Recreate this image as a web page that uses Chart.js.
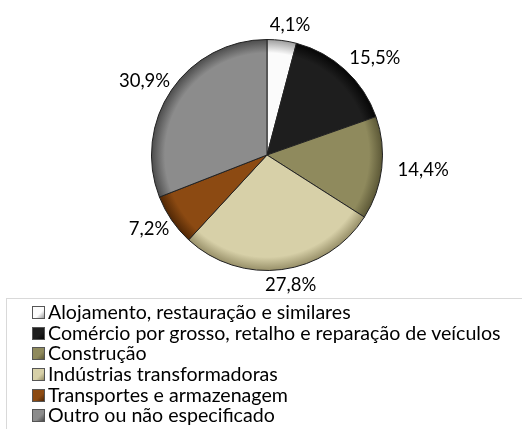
<!DOCTYPE html>
<html><head><meta charset="utf-8">
<script src="https://cdn.jsdelivr.net/npm/chart.js@4/dist/chart.umd.min.js"></script>
<style>
html,body{margin:0;padding:0;background:#fff;width:522px;height:429px;overflow:hidden}
#wrap{position:relative;width:522px;height:429px;overflow:hidden}
#c{position:absolute;left:0;top:0}
#legend{position:absolute;left:6px;top:298px;width:600px;height:200px;border-top:1px solid #d9d9d9;border-left:1px solid #d9d9d9;font-family:Lato,sans-serif;font-size:19.6px;color:#000;padding-top:3px;box-sizing:border-box}
.item{height:20.7px;line-height:20.7px;white-space:nowrap;padding-left:25px;display:flex;align-items:center}
.sw{width:11px;height:11px;border:1px solid #555;margin-right:3px;flex:none}
</style>
</head><body>
<div id="wrap">
<canvas id="c" width="522" height="429"></canvas>
<div id="legend"></div>
</div>
<script>
const categories = [
  'Alojamento, restauração e similares',
  'Comércio por grosso, retalho e reparação de veículos',
  'Construção',
  'Indústrias transformadoras',
  'Transportes e armazenagem',
  'Outro ou não especificado'
];
const shares = [4.1, 15.5, 14.4, 27.8, 7.2, 30.9];
const colors = ['#fbfbfb', '#1e1e1e', '#8f8a5d', '#d7d0a8', '#8c4a12', '#8c8c8c'];
const edgeColors = ['#9a9a9a', '#050505', '#5a5635', '#958d66', '#4e2605', '#4a4a4a'];

function fillFor(ctx) {
  const i = ctx.dataIndex;
  const chart = ctx.chart;
  const a = chart.chartArea;
  if (!a) return colors[i];
  const cx = (a.left + a.right) / 2, cy = (a.top + a.bottom) / 2;
  const r = Math.min(a.right - a.left, a.bottom - a.top) / 2;
  const g = chart.ctx.createRadialGradient(cx, cy, 0, cx, cy, r);
  g.addColorStop(0, colors[i]);
  g.addColorStop(0.88, colors[i]);
  g.addColorStop(1, edgeColors[i]);
  return g;
}

const outsideLabels = {
  id: 'outsideLabels',
  afterDatasetsDraw(chart) {
    const c = chart.ctx;
    const meta = chart.getDatasetMeta(0);
    c.save();
    c.font = '18.5px Lato, sans-serif';
    c.fillStyle = '#000';
    c.textAlign = 'center';
    c.textBaseline = 'middle';
    meta.data.forEach((arc, i) => {
      const p = arc.getProps(['x', 'y', 'startAngle', 'endAngle', 'outerRadius'], true);
      const mid = (p.startAngle + p.endAngle) / 2;
      const txt = shares[i].toFixed(1).replace('.', ',') + '%';
      const w = c.measureText(txt).width, h = 8;
      const rr = p.outerRadius + 12;
      const ax = p.x + Math.cos(mid) * rr, ay = p.y + Math.sin(mid) * rr;
      const bx = ax + Math.cos(mid) * w / 2 + 4, by = ay + Math.sin(mid) * h / 2;
      c.fillText(txt, bx, by);
    });
    c.restore();
  }
};

new Chart(document.getElementById('c'), {
  type: 'pie',
  data: {
    labels: categories,
    datasets: [{
      data: shares,
      backgroundColor: fillFor,
      borderColor: '#222',
      borderWidth: 1
    }]
  },
  options: {
    responsive: false,
    animation: false,
    layout: { padding: { left: 151, right: 139, top: 39, bottom: 158 } },
    plugins: { legend: { display: false }, tooltip: { enabled: false } }
  },
  plugins: [outsideLabels]
});

const leg = document.getElementById('legend');
categories.forEach((name, i) => {
  const d = document.createElement('div');
  d.className = 'item';
  const s = document.createElement('span');
  s.className = 'sw';
  s.style.background = 'linear-gradient(135deg,' + colors[i] + ' 0%,' + colors[i] + ' 60%,' + edgeColors[i] + ' 100%)';
  d.appendChild(s);
  d.appendChild(document.createTextNode(name));
  leg.appendChild(d);
});
</script>
</body></html>
